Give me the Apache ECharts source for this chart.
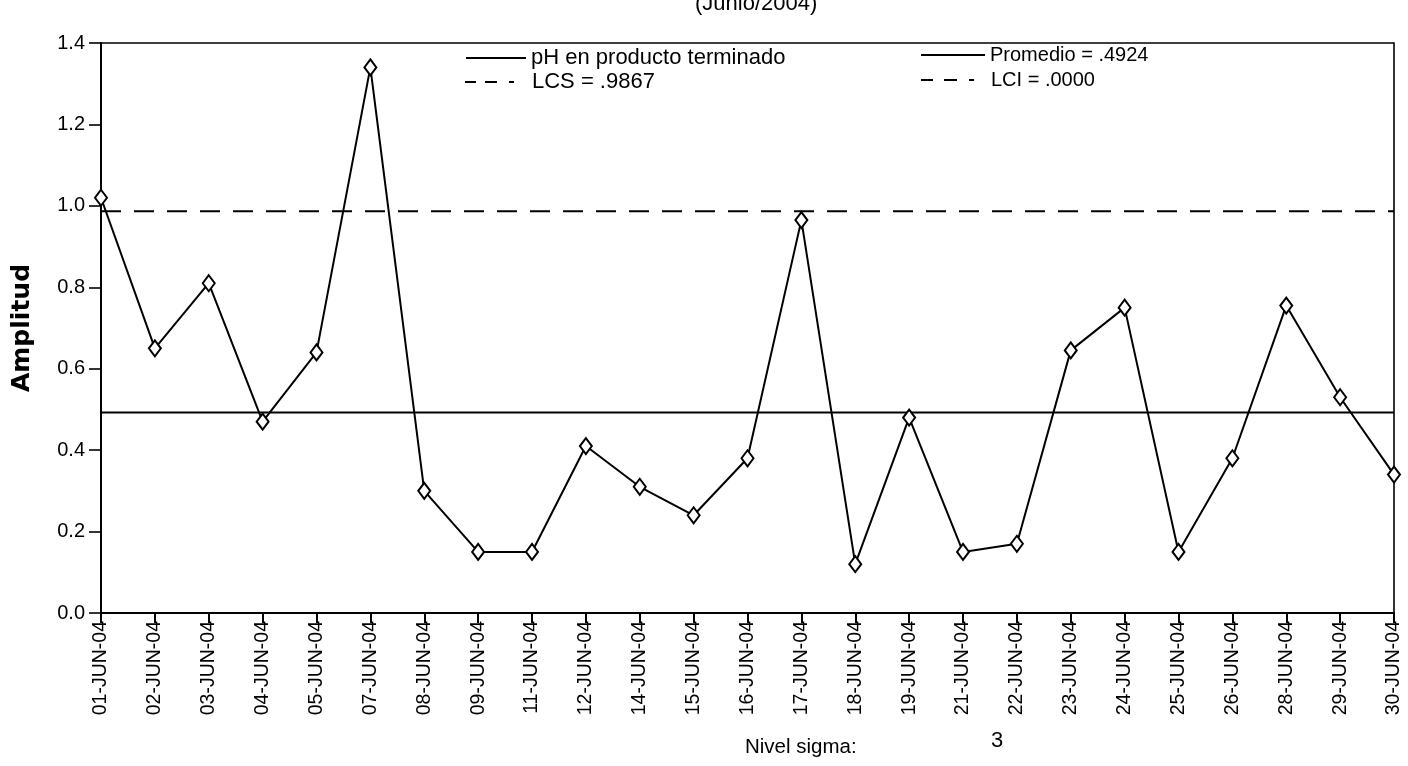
<!DOCTYPE html>
<html>
<head>
<meta charset="utf-8">
<style>
  html, body { margin: 0; padding: 0; background: #ffffff; }
  #chart { width: 1408px; height: 766px; }
</style>
<script src="https://cdn.jsdelivr.net/npm/echarts@6/dist/echarts.min.js"></script>
</head>
<body>
<div id="chart"></div>
<script>
// ---- data ----
var categories = ['01-JUN-04','02-JUN-04','03-JUN-04','04-JUN-04','05-JUN-04','07-JUN-04','08-JUN-04',
  '09-JUN-04','11-JUN-04','12-JUN-04','14-JUN-04','15-JUN-04','16-JUN-04','17-JUN-04','18-JUN-04',
  '19-JUN-04','21-JUN-04','22-JUN-04','23-JUN-04','24-JUN-04','25-JUN-04','26-JUN-04','28-JUN-04',
  '29-JUN-04','30-JUN-04'];
var amplitud = [1.02, 0.65, 0.81, 0.47, 0.64, 1.34, 0.30, 0.15, 0.15, 0.41, 0.31, 0.24, 0.38,
  0.965, 0.12, 0.48, 0.15, 0.17, 0.645, 0.75, 0.15, 0.38, 0.755, 0.53, 0.34];
var promedio = 0.4924;
var lcs = 0.9867;
var lci = 0.0;
var yTicks = ['0.0', '0.2', '0.4', '0.6', '0.8', '1.0', '1.2', '1.4'];
var seriesNames = ['pH en producto terminado', 'Promedio = .4924', 'LCS = .9867', 'LCI = .0000'];
var titleText = '(Junio/2004)';
var sigmaLabel = 'Nivel sigma:';
var sigmaValue = '3';

var FONT = '"Liberation Sans", Arial, sans-serif';
var constLine = function (v) { return categories.map(function () { return v; }); };
var dashIconL = 'path://M0,0h11v2h-11zM20,0h12v2h-12zM44,0h5v2h-5z';
var dashIconR = 'path://M0,0h12v2h-12zM23,0h13v2h-13zM48,0h5v2h-5z';

var chart = echarts.init(document.getElementById('chart'), null, { renderer: 'canvas' });
chart.setOption({
  backgroundColor: '#ffffff',
  animation: false,
  textStyle: { fontFamily: FONT, color: '#000' },
  grid: { left: 101, right: 14, top: 43, bottom: 153, show: true, borderColor: '#000', borderWidth: 1.6, backgroundColor: '#fff' },
  legend: [
    { data: [{ name: seriesNames[0], icon: 'rect', itemStyle: { color: '#000' } }], left: 466, top: 47, padding: 0,
      itemWidth: 60, itemHeight: 2, selectedMode: false,
      textStyle: { fontSize: 22, fontFamily: FONT, color: '#000' } },
    { data: [{ name: seriesNames[2], icon: dashIconL, itemStyle: { color: '#000' } }], left: 465, top: 71, padding: 0,
      itemWidth: 49, itemHeight: 2, selectedMode: false,
      textStyle: { fontSize: 22, fontFamily: FONT, color: '#000', padding: [0, 0, 0, 13] } },
    { data: [{ name: seriesNames[1], icon: 'rect', itemStyle: { color: '#000' } }], left: 921, top: 45, padding: 0,
      itemWidth: 64, itemHeight: 2, selectedMode: false,
      textStyle: { fontSize: 20, fontFamily: FONT, color: '#000' } },
    { data: [{ name: seriesNames[3], icon: dashIconR, itemStyle: { color: '#000' } }], left: 921, top: 70, padding: 0,
      itemWidth: 53, itemHeight: 2, selectedMode: false,
      textStyle: { fontSize: 20, fontFamily: FONT, color: '#000', padding: [0, 0, 0, 12] } }
  ],
  xAxis: {
    type: 'category',
    data: categories,
    boundaryGap: false,
    axisLine: { lineStyle: { color: '#000', width: 2 } },
    axisTick: { show: true, length: 10, inside: false, interval: 0, lineStyle: { color: '#000', width: 2 } },
    axisLabel: { rotate: 90, interval: 0, margin: 8, fontSize: 19.5, color: '#000', fontFamily: FONT },
    splitLine: { show: false }
  },
  yAxis: {
    type: 'value',
    min: 0, max: 1.4, interval: 0.2,
    name: 'Amplitud',
    nameLocation: 'middle',
    nameGap: 66,
    nameRotate: 90,
    nameTextStyle: { fontSize: 25, fontWeight: 'bold', fontFamily: '"DejaVu Sans", sans-serif', color: '#000' },
    axisLine: { show: true, lineStyle: { color: '#000', width: 2 } },
    axisTick: { show: true, length: 12, inside: false, lineStyle: { color: '#000', width: 1.6 } },
    axisLabel: { margin: 16, fontSize: 20, color: '#000', fontFamily: FONT,
      formatter: function (v) { return yTicks[Math.round(v / 0.2)]; } },
    splitLine: { show: false }
  },
  series: [
    { name: seriesNames[0], type: 'line', data: amplitud, symbol: 'emptyDiamond', symbolSize: [12, 16],
      itemStyle: { color: '#000', borderWidth: 2 }, lineStyle: { color: '#000', width: 2 }, z: 5 },
    { name: seriesNames[1], type: 'line', data: constLine(promedio), symbol: 'none',
      itemStyle: { color: '#000' }, lineStyle: { color: '#000', width: 2, type: 'solid' }, z: 3 },
    { name: seriesNames[2], type: 'line', data: constLine(lcs), symbol: 'none',
      itemStyle: { color: '#000' }, lineStyle: { color: '#000', width: 2, type: [20, 13] }, z: 3 },
    { name: seriesNames[3], type: 'line', data: constLine(lci), symbol: 'none',
      itemStyle: { color: '#000' }, lineStyle: { color: '#000', width: 2, type: [20, 13] }, z: 2 }
  ],
  graphic: [
    { type: 'text', left: 695, top: -7, style: { text: titleText, fontSize: 22, fontFamily: FONT, fill: '#000' } },
    { type: 'text', left: 745, top: 737, style: { text: sigmaLabel, fontSize: 20.5, fontFamily: FONT, fill: '#000' } },
    { type: 'text', left: 991, top: 730, style: { text: sigmaValue, fontSize: 22, fontFamily: FONT, fill: '#000' } }
  ]
});
</script>
</body>
</html>
